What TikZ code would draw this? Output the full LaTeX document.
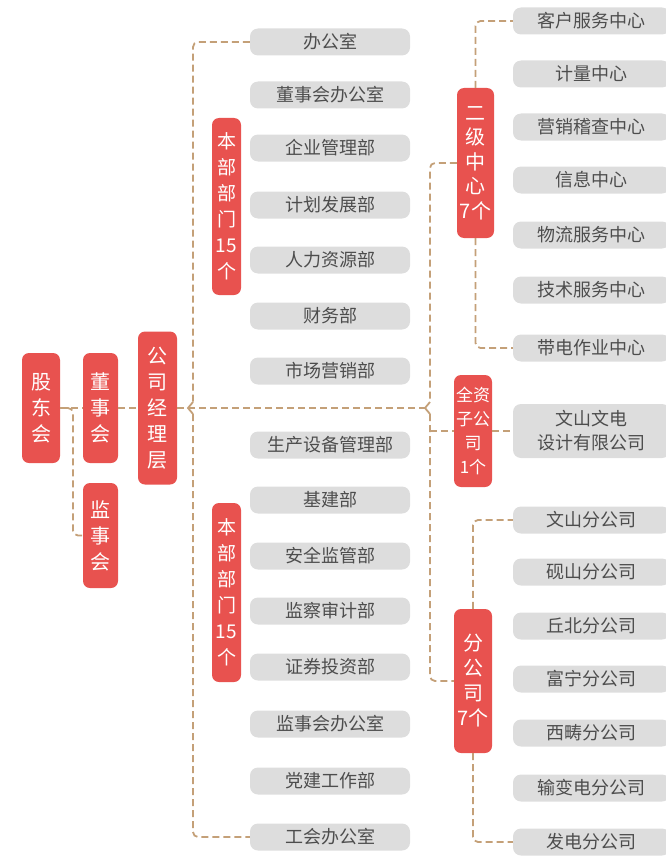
\documentclass[tikz,border=0pt]{standalone}
\usepackage{fontspec}
\newfontfamily\cjk{Noto Sans CJK SC}
\usetikzlibrary{calc}
\definecolor{rbox}{HTML}{E8524F}
\definecolor{gbox}{HTML}{DDDDDD}
\definecolor{gtext}{HTML}{4D4D4D}
\definecolor{lnk}{HTML}{C4A078}
\begin{document}
\begin{tikzpicture}[x=1pt,y=-1pt,
  redbox/.style={fill=rbox, rounded corners=7pt, text=white, align=center, inner sep=0pt, font=\cjk\fontsize{20}{26}\selectfont},
  greybox/.style={fill=gbox, rounded corners=8pt, text=gtext, align=center, inner sep=0pt, minimum height=27pt, font=\cjk\fontsize{18}{22}\selectfont},
  mid/.style={greybox, minimum width=160pt},
  rgt/.style={greybox, minimum width=157pt},
  link/.style={draw=lnk, line width=1.8pt, dash pattern=on 7pt off 4pt, rounded corners=5pt},
  chev/.style={draw=lnk, line width=1.8pt, solid, sharp corners}
]
\useasboundingbox (0,0) rectangle (666,856);
\clip (0,0) rectangle (666,856);

% left red boxes
\node[redbox, minimum width=38pt, minimum height=110pt] (gd) at (41,408) {股\\东\\会};
\node[redbox, minimum width=35pt, minimum height=110pt] (ds) at (100.5,408) {董\\事\\会};
\node[redbox, minimum width=35pt, minimum height=105pt] (js) at (100.5,535.5) {监\\事\\会};
\node[redbox, minimum width=39pt, minimum height=153pt] (jl) at (157.5,408) {公\\司\\经\\理\\层};
\node[redbox, minimum width=29pt, minimum height=177pt, font=\cjk\fontsize{19}{26}\selectfont] (bb1) at (226.5,206.5) {本\\部\\部\\门\\15\\个};
\node[redbox, minimum width=29pt, minimum height=179pt, font=\cjk\fontsize{19}{26}\selectfont] (bb2) at (226.5,592.5) {本\\部\\部\\门\\15\\个};
\node[redbox, minimum width=37pt, minimum height=150pt, font=\cjk\fontsize{20}{24.5}\selectfont] (ej) at (475.5,163) {二\\级\\中\\心\\7个};
\node[redbox, minimum width=38pt, minimum height=112pt, font=\cjk\fontsize{17}{24}\selectfont] (qz) at (473,431) {全资\\子公\\司\\1个};
\node[redbox, minimum width=38pt, minimum height=144pt, font=\cjk\fontsize{20}{25}\selectfont] (fg) at (473,681) {分\\公\\司\\7个};

% middle grey boxes
\node[mid] (m1) at (330,42) {办公室};
\node[mid] (m2) at (330,95) {董事会办公室};
\node[mid] (m3) at (330,148) {企业管理部};
\node[mid] (m4) at (330,205) {计划发展部};
\node[mid] (m5) at (330,260) {人力资源部};
\node[mid] (m6) at (330,316) {财务部};
\node[mid] (m7) at (330,371) {市场营销部};
\node[mid] (m8) at (330,445) {生产设备管理部};
\node[mid] (m9) at (330,500) {基建部};
\node[mid] (m10) at (330,556) {安全监管部};
\node[mid] (m11) at (330,611) {监察审计部};
\node[mid] (m12) at (330,667) {证券投资部};
\node[mid] (m13) at (330,724) {监事会办公室};
\node[mid] (m14) at (330,781) {党建工作部};
\node[mid] (m15) at (330,837) {工会办公室};

% right grey boxes
\node[rgt] (r1) at (591.5,21) {客户服务中心};
\node[rgt] (r2) at (591.5,74) {计量中心};
\node[rgt] (r3) at (591.5,127) {营销稽查中心};
\node[rgt] (r4) at (591.5,180) {信息中心};
\node[rgt] (r5) at (591.5,235) {物流服务中心};
\node[rgt] (r6) at (591.5,290) {技术服务中心};
\node[rgt] (r7) at (591.5,348) {带电作业中心};
\node[rgt, minimum height=54pt, font=\cjk\fontsize{18}{24}\selectfont] (w1) at (591.5,431) {文山文电\\设计有限公司};
\node[rgt] (f1) at (591.5,520) {文山分公司};
\node[rgt] (f2) at (591.5,572) {砚山分公司};
\node[rgt] (f3) at (591.5,626) {丘北分公司};
\node[rgt] (f4) at (591.5,679) {富宁分公司};
\node[rgt] (f5) at (591.5,733) {西畴分公司};
\node[rgt] (f6) at (591.5,788) {输变电分公司};
\node[rgt] (f7) at (591.5,842) {发电分公司};

% junction coordinates
\coordinate (j0a) at (66,408);
\coordinate (j0) at (73,408);
\coordinate (v1) at (193,408);
\coordinate (v2) at (430,408);

% left connectors
\draw[link] (gd.east) -- (ds.west);
\draw[link] (j0a) -- (j0) -- (j0 |- js.west) -- (js.west);
\draw[link] (ds.east) -- (jl.west);
\draw[link] (jl.east) -- ([xshift=-5pt]v2);

% bracket for 本部部门
\draw[link] (m1.west) -- (v1 |- m1.west) -- ([yshift=6pt]v1);
\draw[chev] ([yshift=6pt]v1) -- ([xshift=-5pt]v1) -- ([yshift=-6pt]v1);
\draw[link] ([yshift=-6pt]v1) -- (v1 |- m15.west) -- (m15.west);

% bracket on the right
\draw[link] (ej.west) -- (v2 |- ej.west) -- ([yshift=6pt]v2);
\draw[chev] ([yshift=6pt]v2) -- ([xshift=-5pt]v2) -- ([yshift=-6pt]v2);
\draw[link] ([yshift=-6pt]v2) -- (v2 |- fg.west) -- (fg.west);
\draw[link] (v2 |- qz.west) -- (qz.west);
\draw[link] (qz.east) -- (w1.west);

% 二级中心 bracket
\draw[link] (ej.north) -- (ej.north |- r1.west) -- (r1.west);
\draw[link] (ej.south) -- (ej.south |- r7.west) -- (r7.west);

% 分公司 bracket
\draw[link] (fg.north) -- (fg.north |- f1.west) -- (f1.west);
\draw[link] (fg.south) -- (fg.south |- f7.west) -- (f7.west);
\end{tikzpicture}
\end{document}
